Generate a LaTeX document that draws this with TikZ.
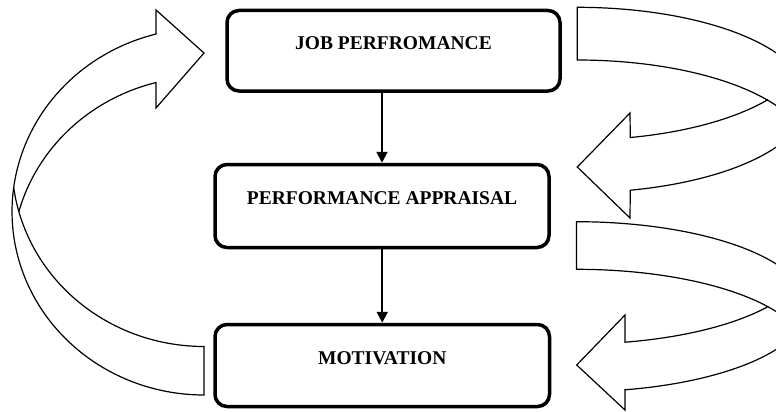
\documentclass[tikz,border=0pt]{standalone}
\usepackage{fontspec}
\setmainfont{Liberation Serif}
\usetikzlibrary{arrows.meta}
\begin{document}
\begin{tikzpicture}[x=1pt,y=-1pt,
  stagebox/.style={draw=black, line width=3.5pt, rounded corners=12pt, fill=white,
    font=\fontsize{19.5}{23}\selectfont\bfseries,
    text height=13pt, text depth=15.6pt, inner sep=0pt},
  flowarrow/.style={draw=black, line width=2pt, -{Triangle[width=11pt,length=11pt]}},
  bendarrow/.style={draw=black, fill=white, line width=1.2pt, line join=miter},
  backedge/.style={draw=black, line width=1.2pt}
]
\useasboundingbox (0,0) rectangle (776,412);

\begin{scope}
\clip (0,0) rectangle (776,412);

% left feedback arrow: from MOTIVATION back up to JOB PERFROMANCE
\draw[bendarrow] (204,395)
  -- plot[domain=90:255.52, samples=90, variable=\t] ({204+192*cos(\t)},{211.6+183.4*sin(\t)})
  -- (156,10) -- (204,53) -- (156,108)
  -- plot[domain=255.52:195.34, samples=50, variable=\t] ({204+192*cos(\t)},{260.1+183.4*sin(\t)})
  -- plot[domain=164.66:90, samples=50, variable=\t] ({204+192*cos(\t)},{163.1+183.4*sin(\t)})
  -- cycle;
\draw[backedge] plot[domain=164.66:172.4, samples=12, variable=\t] ({204+192*cos(\t)},{163.1+183.4*sin(\t)});

% upper right arrow: JOB PERFROMANCE -> PERFORMANCE APPRAISAL
\draw[bendarrow] (577.3,7.3)
  -- plot[domain=-90:76.74, samples=90, variable=\t] ({577.3+231*cos(\t)},{100+92.7*sin(\t)})
  -- (630,218) -- (577.3,167) -- (630,113)
  -- plot[domain=76.74:34.64, samples=40, variable=\t] ({577.3+231*cos(\t)},{47.3+92.7*sin(\t)})
  -- plot[domain=-34.64:-90, samples=50, variable=\t] ({577.3+231*cos(\t)},{152.7+92.7*sin(\t)})
  -- cycle;
\draw[backedge] plot[domain=-34.64:-16.52, samples=15, variable=\t] ({577.3+231*cos(\t)},{152.7+92.7*sin(\t)});

% lower right arrow: PERFORMANCE APPRAISAL -> MOTIVATION
\draw[bendarrow] (576.5,221.7)
  -- plot[domain=-90:77.88, samples=90, variable=\t] ({576.5+231*cos(\t)},{306.7+85*sin(\t)})
  -- (625,410) -- (576.7,365) -- (625,315)
  -- plot[domain=77.88:34.06, samples=40, variable=\t] ({576.5+231*cos(\t)},{259.1+85*sin(\t)})
  -- plot[domain=-34.06:-90, samples=50, variable=\t] ({576.5+231*cos(\t)},{354.3+85*sin(\t)})
  -- cycle;
\draw[backedge] plot[domain=-34.06:-16.26, samples=15, variable=\t] ({576.5+231*cos(\t)},{354.3+85*sin(\t)});
\end{scope}

% the three stages
\node[stagebox, minimum width=333pt, minimum height=80.5pt] (job) at (393.5,50.75) {JOB PERFROMANCE};
\node[stagebox, minimum width=334pt, minimum height=83pt] (appraisal) at (382,206) {PERFORMANCE APPRAISAL};
\node[stagebox, minimum width=334.5pt, minimum height=82pt] (motivation) at (382.25,365.5) {MOTIVATION};

% straight flow between stages
\draw[flowarrow] (appraisal.north |- job.south) -- (appraisal.north);
\draw[flowarrow] (motivation.north |- appraisal.south) -- (motivation.north);
\end{tikzpicture}
\end{document}
